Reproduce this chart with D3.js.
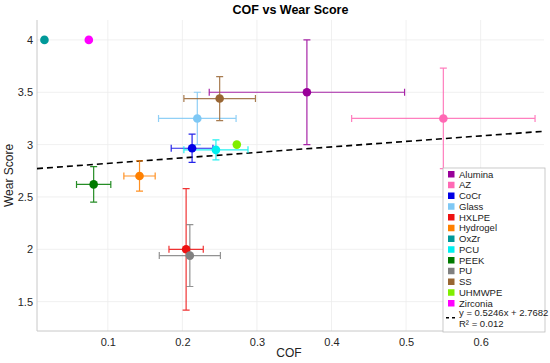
<!DOCTYPE html>
<html>
<head>
<meta charset="utf-8">
<script src="https://cdn.jsdelivr.net/npm/d3@7"></script>
<style>
  body { margin: 0; background: #fff; }
  svg { font-family: "Liberation Sans", Arial, sans-serif; }
</style>
</head>
<body>
<svg id="chart" width="550" height="363"></svg>
<script>
// materials and their values
const materials = ["Alumina", "AZ", "CoCr", "Glass", "HXLPE", "Hydrogel", "OxZr", "PCU", "PEEK", "PU", "SS", "UHMWPE", "Zirconia"];
const colors = ["#990099", "#ff69b4", "#0000e6", "#7ec8f5", "#ee1111", "#ff8000", "#009999", "#00f0f0", "#007a00", "#808080", "#996633", "#80ee00", "#ff00ff"];
const cof = [0.367, 0.55, 0.213, 0.22, 0.205, 0.1425, 0.015, 0.245, 0.081, 0.21, 0.25, 0.273, 0.0745];
const cofErr = [0.131, 0.123, 0.028, 0.052, 0.023, 0.021, 0, 0.043, 0.023, 0.041, 0.048, 0, 0];
const wear = [3.5, 3.25, 2.965, 3.25, 2.0, 2.70, 4.0, 2.95, 2.62, 1.94, 3.44, 3.0, 4.0];
const wearErr = [0.5, 0.48, 0.135, 0.25, 0.58, 0.145, 0, 0.095, 0.17, 0.295, 0.21, 0, 0];
const xTicks = [0.1, 0.2, 0.3, 0.4, 0.5, 0.6];
const yTicks = [1.5, 2, 2.5, 3, 3.5, 4];
const fitSlope = 0.5246, fitIntercept = 2.7682, fitR2 = 0.012;

const svg = d3.select("#chart");
const plotL = 37, plotR = 544, plotT = 20, plotB = 331;

let x = d3.scaleLinear().domain([0.005, 0.685]).range([plotL, plotR]);
let y = d3.scaleLinear().domain([1.22, 4.19]).range([plotB, plotT]);

// grid
svg.append("g").selectAll("line").data(xTicks).enter().append("line")
    .attr("x1", d => x(d)).attr("x2", d => x(d))
    .attr("y1", plotT).attr("y2", plotB)
    .attr("stroke", "#ececec").attr("stroke-width", 0.8);
svg.append("g").selectAll("line").data(yTicks).enter().append("line")
    .attr("y1", d => y(d)).attr("y2", d => y(d))
    .attr("x1", plotL).attr("x2", plotR)
    .attr("stroke", "#ececec").attr("stroke-width", 0.8);

// axes
const xAxis = svg.append("g")
    .attr("transform", "translate(0," + plotB + ")")
    .call(d3.axisBottom(x).tickValues(xTicks).tickSize(0).tickPadding(7).tickFormat(d3.format("")));
const yAxis = svg.append("g")
    .attr("transform", "translate(" + plotL + ",0)")
    .call(d3.axisLeft(y).tickValues(yTicks).tickSize(0).tickPadding(4).tickFormat(d3.format("")));
[xAxis, yAxis].forEach(a => {
    a.select(".domain").attr("stroke", "#c8c8c8");
    a.selectAll("text").attr("fill", "#262626").style("font-size", "11px").style("font-family", "Liberation Sans, Arial, sans-serif");
});
xAxis.select(".domain").attr("d", "M" + plotL + ",0H" + plotR);
yAxis.select(".domain").attr("d", "M0," + plotB + "V" + plotT);

// trend line
svg.append("line")
    .attr("x1", x(0.005)).attr("y1", y(fitSlope * 0.005 + fitIntercept))
    .attr("x2", x(0.685)).attr("y2", y(fitSlope * 0.685 + fitIntercept))
    .attr("stroke", "#000").attr("stroke-width", 1.6).attr("stroke-dasharray", "6,4");

const data = materials.map((m, i) => ({
    name: m, color: colors[i], x: cof[i], y: wear[i], ex: cofErr[i], ey: wearErr[i]
}));

// error bars
const cap = 3.5;
const eb = svg.append("g").selectAll("g").data(data.filter(d => d.ex > 0 || d.ey > 0)).enter().append("g")
    .attr("stroke", d => d.color).attr("stroke-width", 1.2).attr("opacity", 0.85);
eb.append("path").attr("d", d =>
    "M" + x(d.x - d.ex) + "," + y(d.y) + "H" + x(d.x + d.ex) +
    "M" + x(d.x - d.ex) + "," + (y(d.y) - cap) + "V" + (y(d.y) + cap) +
    "M" + x(d.x + d.ex) + "," + (y(d.y) - cap) + "V" + (y(d.y) + cap))
    .attr("fill", "none");
eb.append("path").attr("d", d =>
    "M" + x(d.x) + "," + y(d.y - d.ey) + "V" + y(d.y + d.ey) +
    "M" + (x(d.x) - cap) + "," + y(d.y - d.ey) + "H" + (x(d.x) + cap) +
    "M" + (x(d.x) - cap) + "," + y(d.y + d.ey) + "H" + (x(d.x) + cap))
    .attr("fill", "none");

// points
svg.append("g").selectAll("circle").data(data).enter().append("circle")
    .attr("cx", d => x(d.x)).attr("cy", d => y(d.y)).attr("r", 4.3)
    .attr("fill", d => d.color);

// legend
const lg = svg.append("g").attr("transform", "translate(443,168)");
lg.append("rect").attr("x", 0).attr("y", 0).attr("width", 102).attr("height", 164)
    .attr("fill", "#fff").attr("stroke", "#bdbdbd").attr("stroke-width", 0.8);
const rowH = 10.75;
const items = lg.selectAll("g.item").data(data).enter().append("g")
    .attr("transform", (d, i) => "translate(0," + (6 + i * rowH) + ")");
items.append("rect").attr("x", 5).attr("y", -3).attr("width", 6.5).attr("height", 6.5)
    .attr("fill", d => d.color);
items.append("text").attr("x", 16).attr("y", 3.5).text(d => d.name)
    .style("font-size", "9.5px").attr("fill", "#222");
const fy = 6 + materials.length * rowH + 4;
lg.append("line").attr("x1", 3).attr("x2", 13).attr("y1", fy).attr("y2", fy)
    .attr("stroke", "#000").attr("stroke-width", 1.6).attr("stroke-dasharray", "3,3");
lg.append("text").attr("x", 16).attr("y", fy - 1.5)
    .text("y = " + fitSlope + "x + " + fitIntercept).style("font-size", "9.5px").attr("fill", "#222");
lg.append("text").attr("x", 16).attr("y", fy + 9.5)
    .text("R² = " + fitR2).style("font-size", "9.5px").attr("fill", "#222");

// labels
svg.append("text").attr("x", (plotL + plotR) / 2).attr("y", 14).attr("text-anchor", "middle")
    .style("font-size", "12.5px").style("font-weight", "bold").text("COF vs Wear Score");
svg.append("text").attr("x", 289).attr("y", 357).attr("text-anchor", "middle")
    .style("font-size", "12px").attr("fill", "#222").text("COF");
svg.append("text").attr("transform", "translate(13," + (plotT + plotB) / 2 + ") rotate(-90)")
    .attr("text-anchor", "middle").style("font-size", "12px").attr("fill", "#222").text("Wear Score");
</script>
</body>
</html>
